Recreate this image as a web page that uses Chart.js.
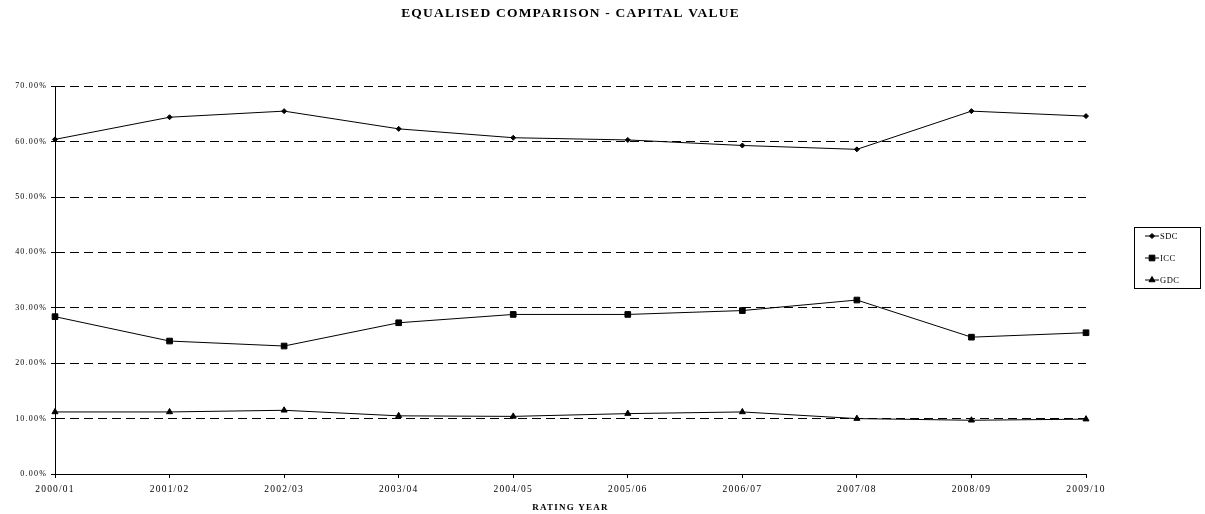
<!DOCTYPE html>
<html>
<head>
<meta charset="utf-8">
<script src="https://cdn.jsdelivr.net/npm/chart.js@4/dist/chart.umd.min.js"></script>
<style>
  html, body { margin: 0; padding: 0; background: #fff; }
  #wrap { width: 1205px; height: 514px; }
</style>
</head>
<body>
<div id="wrap"><canvas id="chart" width="1205" height="514"></canvas></div>
<script>
// Años de valoración (eje X)
const ratingYears = ['2000/01', '2001/02', '2002/03', '2003/04', '2004/05',
  '2005/06', '2006/07', '2007/08', '2008/09', '2009/10'];

// Series en porcentaje
const sdcValues = [60.4, 64.4, 65.5, 62.3, 60.7, 60.3, 59.3, 58.6, 65.5, 64.6];
const iccValues = [28.4, 24.0, 23.1, 27.3, 28.8, 28.8, 29.5, 31.4, 24.7, 25.5];
const gdcValues = [11.2, 11.2, 11.5, 10.5, 10.4, 10.9, 11.2, 10.0, 9.7, 9.9];

const yTicks = [0, 10, 20, 30, 40, 50, 60, 70];

const serif = '"Liberation Serif", "Times New Roman", serif';

// Espaciado de letras tipo Excel para todo el texto del canvas
const letterSpacing = {
  id: 'letterSpacing',
  beforeDraw(chart) {
    chart.ctx.letterSpacing = '1.2px';
  }
};

// Leyenda con marco, dibujada a mano
const boxedLegend = {
  id: 'boxedLegend',
  afterDraw(chart) {
    const ctx = chart.ctx;
    const x0 = 1134.5, y0 = 227.5, w = 66, h = 61;
    ctx.save();
    ctx.letterSpacing = '0.5px';
    ctx.strokeStyle = '#000';
    ctx.lineWidth = 1;
    ctx.setLineDash([]);
    ctx.strokeRect(x0, y0, w, h);
    const rows = [236, 258, 280];
    chart.data.datasets.forEach((ds, i) => {
      const y = rows[i];
      ctx.beginPath();
      ctx.moveTo(1145, y);
      ctx.lineTo(1159, y);
      ctx.strokeStyle = '#000';
      ctx.lineWidth = 1;
      ctx.stroke();
      ctx.fillStyle = '#000';
      Chart.helpers.drawPoint(ctx, {
        pointStyle: ds.pointStyle,
        radius: ds.pointRadius,
        borderWidth: 1,
        rotation: 0
      }, 1152, y);
      ctx.fillStyle = '#000';
      ctx.font = '8.5px ' + serif;
      ctx.textBaseline = 'middle';
      ctx.textAlign = 'left';
      ctx.fillText(ds.label, 1160, y + 0.5);
    });
    ctx.restore();
  }
};

function serie(label, data, style, radius) {
  return {
    label,
    data,
    borderColor: '#000',
    backgroundColor: '#000',
    borderWidth: 1,
    pointStyle: style,
    pointRadius: radius,
    pointHoverRadius: radius,
    pointBorderWidth: 1,
    tension: 0,
    fill: false
  };
}

new Chart(document.getElementById('chart'), {
  type: 'line',
  data: {
    labels: ratingYears,
    datasets: [
      serie('SDC', sdcValues, 'rectRot', 2.5),
      serie('ICC', iccValues, 'rect', 4),
      serie('GDC', gdcValues, 'triangle', 3.5)
    ]
  },
  options: {
    responsive: false,
    animation: false,
    layout: { padding: { left: 0, right: 119, top: 0, bottom: 0 } },
    plugins: {
      legend: { display: false },
      tooltip: { enabled: false },
      title: {
        display: true,
        fullSize: false,
        text: 'EQUALISED COMPARISON - CAPITAL VALUE',
        color: '#000',
        font: { family: serif, size: 13.5, weight: 'bold', lineHeight: 1.2 },
        padding: { top: 5, bottom: 65 }
      }
    },
    scales: {
      x: {
        offset: false,
        afterFit(scale) { scale.height = 40; },
        grid: {
          display: true,
          drawOnChartArea: false,
          drawTicks: true,
          tickLength: 4,
          tickColor: '#000'
        },
        border: { display: true, color: '#000', width: 1 },
        ticks: {
          color: '#000',
          font: { family: serif, size: 9.5 },
          padding: 6,
          maxRotation: 0,
          autoSkip: false
        },
        title: {
          display: true,
          text: 'RATING YEAR',
          color: '#000',
          font: { family: serif, size: 9, weight: 'bold' },
          padding: { top: 0, bottom: 1 }
        }
      },
      y: {
        min: 0,
        max: 70,
        afterFit(scale) { scale.width = 55; },
        afterBuildTicks(scale) { scale.ticks = yTicks.map(v => ({ value: v })); },
        grid: {
          color: ctx => ctx.tick && ctx.tick.value === 0 ? 'rgba(0,0,0,0)' : '#000',
          lineWidth: 1,
          drawTicks: true,
          tickLength: 4,
          tickColor: '#000',
          tickBorderDash: []
        },
        // en v4 el guion de las líneas de rejilla va en border.dash
        border: { display: true, color: '#000', width: 1, dash: [9, 5] },
        ticks: {
          color: '#000',
          font: { family: serif, size: 8 },
          padding: 4,
          callback: v => v.toFixed(2) + '%'
        }
      }
    }
  },
  plugins: [letterSpacing, boxedLegend]
});
</script>
</body>
</html>
